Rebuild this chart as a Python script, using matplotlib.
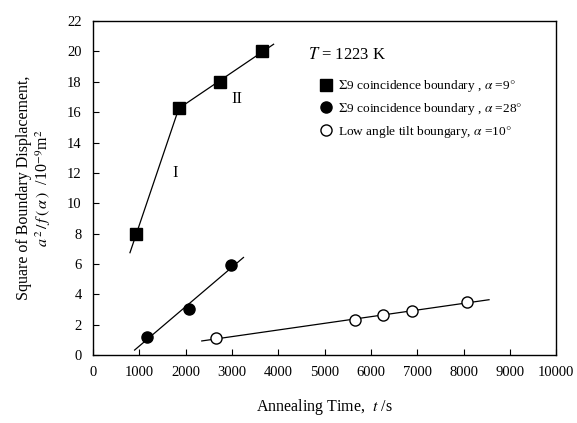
import matplotlib
matplotlib.use("Agg")
import matplotlib.pyplot as plt
import numpy as np

plt.rcParams['font.family'] = ['Liberation Serif', 'DejaVu Serif']
plt.rcParams['mathtext.fontset'] = 'stix'

# data
sq_t = [940, 1860, 2740, 3650]
sq_a = [8.0, 16.3, 18.0, 20.0]
fc_t = [1170, 2070, 2980]
fc_a = [1.2, 3.0, 5.9]
oc_t = [2660, 5660, 6260, 6890, 8080]
oc_a = [1.1, 2.3, 2.6, 2.9, 3.5]

# extent of the fitted lines
line1_t = [800, 1860]
line2_t = [1860, 3900]
fc_line_t = [900, 3250]
oc_line_t = [2350, 8550]

fig = plt.figure(figsize=(5.77, 4.23), dpi=100)
ax = fig.add_axes([0.161, 0.161, 0.803, 0.789])

# fitted lines
p1 = np.polyfit(sq_t[:2], sq_a[:2], 1)
p2 = np.polyfit(sq_t[1:], sq_a[1:], 1)
p3 = np.polyfit(fc_t, fc_a, 1)
p4 = np.polyfit(oc_t, oc_a, 1)
for p, rng in [(p1, line1_t), (p2, line2_t), (p3, fc_line_t), (p4, oc_line_t)]:
    ax.plot(rng, np.polyval(p, rng), color='black', lw=0.9, zorder=1)

ax.plot(sq_t, sq_a, 's', color='black', ms=8.5, ls='none', zorder=3,
        label=r'$\mathit{\Sigma}$9 coincidence boundary , $\alpha$ =9$\degree$')
ax.plot(fc_t, fc_a, 'o', color='black', ms=8, ls='none', zorder=3,
        label=r'$\mathit{\Sigma}$9 coincidence boundary , $\alpha$ =28$\degree$')
ax.plot(oc_t, oc_a, 'o', mfc='white', mec='black', mew=1.0, ms=8, ls='none', zorder=3,
        label=r'Low angle tilt boungary, $\alpha$ =10$\degree$')

ax.text(1770, 12.0, 'I', fontsize=12, ha='center', va='center')
ax.text(3110, 16.9, 'II', fontsize=12, ha='center', va='center')
ax.text(4650, 19.8, r'$T$ = 1223 K', fontsize=12, ha='left', va='center')

ax.legend(loc='upper left', bbox_to_anchor=(0.475, 0.845), frameon=False,
          fontsize=9.6, handletextpad=0.35, labelspacing=0.5, handlelength=1.1,
          borderaxespad=0)

ax.set_xlim(0, 10000)
ax.set_ylim(0, 22)
ax.set_xticks(np.arange(0, 10001, 1000))
ax.set_yticks(np.arange(0, 23, 2))
ax.tick_params(direction='in', length=4, labelsize=10.5, pad=8)
for s in ax.spines.values():
    s.set_linewidth(1.0)

ax.set_xlabel(r'Annealing Time,  $t$ /s', fontsize=11.5, labelpad=13)
ax.set_ylabel('Square of Boundary Displacement,\n'
              r'$a^{\,2}\,/\,f\,(\,\alpha\,)$  /10$^{-9}$m$^2$',
              fontsize=11.5, labelpad=10, linespacing=1.1)

fig.savefig('out.png', dpi=100)
